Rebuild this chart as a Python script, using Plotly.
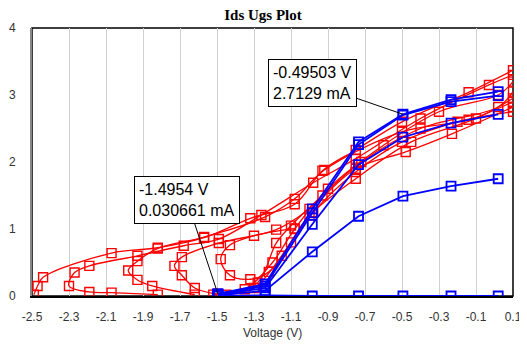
import plotly.graph_objects as go

# ---- data ----
blue_v = [-1.495, -1.24, -0.985, -0.735, -0.495, -0.235, 0.02]
blue_a = [0.03, 0.18, 1.30, 2.30, 2.7129, 2.93, 3.05]
blue_b = [0.03, 0.15, 1.24, 2.26, 2.70, 2.90, 2.99]
blue_c = [0.02, 0.12, 1.07, 1.96, 2.37, 2.58, 2.71]
blue_d = [0.01, 0.08, 0.66, 1.19, 1.49, 1.64, 1.75]
blue_e = [0.0, 0.01, 0.0, 0.0, 0.0, 0.0, 0.0]

red_curves = [
    ([-2.49, -2.47, -2.44, -2.07, -1.82, -1.57, -1.32, -1.08, -0.93, -0.75, -0.5, -0.14, 0.1],
     [0.02, 0.15, 0.28, 0.64, 0.72, 0.87, 1.16, 1.37, 1.87, 2.18, 2.6, 3.04, 3.37]),
    ([-1.82, -2.07, -2.19, -2.3, -2.27, -2.19, -1.93, -1.68, -1.49, -1.26, -0.98, -0.75, -0.4, -0.03, 0.1],
     [0.02, 0.05, 0.06, 0.15, 0.35, 0.45, 0.6, 0.75, 0.85, 1.21, 1.69, 2.05, 2.65, 3.15, 3.3]),
    ([-1.62, -1.85, -1.93, -1.98, -1.93, -1.82, -1.57, -1.24, -1.08, -0.92, -0.5, -0.14, 0.1],
     [0.02, 0.15, 0.24, 0.38, 0.52, 0.71, 0.88, 1.18, 1.45, 1.88, 2.45, 2.63, 2.9]),
    ([-1.5, -1.62, -1.69, -1.73, -1.69, -1.49, -1.18, -1.0, -0.75, -0.48, -0.23, 0.1],
     [0.03, 0.12, 0.31, 0.45, 0.58, 0.79, 0.99, 1.3, 1.9, 2.15, 2.42, 2.82]),
    ([-1.08, -1.3, -1.43, -1.48, -1.43, -1.32, -1.22, -1.1, -0.98, -0.75, -0.5, -0.2, 0.1],
     [1.01, 0.9, 0.76, 0.55, 0.31, 0.25, 0.36, 0.8, 1.25, 1.85, 2.3, 2.6, 2.75]),
    ([-1.45, -1.3, -1.15, -1.0, -0.75, -0.45, -0.1, 0.1],
     [0.02, 0.12, 0.6, 1.2, 1.75, 2.3, 2.65, 2.95]),
    ([-1.46, -1.28, -1.18, -1.1, -0.93, -0.72, -0.4, 0.02, 0.1],
     [0.01, 0.2, 0.79, 1.05, 1.5, 2.0, 2.5, 2.82, 3.05]),
    ([-1.52, -1.35, -1.2, -1.08, -0.9, -0.6, -0.3, 0.02, 0.1],
     [0.02, 0.1, 0.5, 1.0, 1.6, 2.25, 2.75, 3.0, 3.2]),
]

x_ticks = [-2.5, -2.3, -2.1, -1.9, -1.7, -1.5, -1.3, -1.1, -0.9, -0.7, -0.5, -0.3, -0.1, 0.1]
y_ticks = [0, 1, 2, 3, 4]

fig = go.Figure()

for xs, ys in red_curves:
    fig.add_trace(go.Scatter(
        x=xs, y=ys, mode="lines+markers",
        line=dict(color="#ff0000", width=1.3, shape="spline", smoothing=1.0),
        marker=dict(symbol="square-open", size=9, color="#ff0000", line=dict(width=1.4)),
        showlegend=False, hoverinfo="skip", cliponaxis=True,
    ))

for ys in [blue_e, blue_d, blue_c, blue_b, blue_a]:
    fig.add_trace(go.Scatter(
        x=blue_v, y=ys, mode="lines+markers",
        line=dict(color="#0000ff", width=1.8),
        marker=dict(symbol="square-open", size=9, color="#0000ff", line=dict(width=1.8)),
        showlegend=False, hoverinfo="skip", cliponaxis=True,
    ))

ann_font = dict(family="Arial, Liberation Sans, sans-serif", size=16, color="#000000")
fig.add_annotation(
    x=-1.4954, y=0.030661, xref="x", yref="y",
    text="-1.4954 V<br>0.030661 mA", align="left",
    showarrow=True, arrowhead=0, arrowwidth=1, arrowcolor="#000000",
    ax=-31, ay=-94, bgcolor="#ffffff", bordercolor="#000000", borderwidth=1, borderpad=4,
    font=ann_font,
)
fig.add_annotation(
    x=-0.49503, y=2.7129, xref="x", yref="y",
    text="-0.49503 V<br>2.7129 mA", align="left",
    showarrow=True, arrowhead=0, arrowwidth=1, arrowcolor="#000000",
    ax=-90, ay=-31, bgcolor="#ffffff", bordercolor="#000000", borderwidth=1, borderpad=4,
    font=ann_font,
)

tick_font = dict(family="Arial, Liberation Sans, sans-serif", size=12, color="#333333")

fig.add_annotation(
    text="Voltage (V)", xref="paper", yref="paper", x=0.5, y=0,
    xanchor="center", yanchor="middle", yshift=-37, showarrow=False, font=tick_font,
)

fig.add_shape(type="rect", xref="paper", yref="paper", x0=0, y0=0, x1=1, y1=1,
              line=dict(color="#000000", width=1.5), layer="below")

# page body has an 8px default margin, so the figure is offset by (8, 8)
W, H = 519, 336
fig.update_layout(
    width=W, height=H,
    margin=dict(l=24, r=14, t=20, b=48, autoexpand=False),
    paper_bgcolor="#ffffff", plot_bgcolor="#ffffff",
    title=dict(text="<b>Ids Ugs Plot</b>", x=(263 - 8) / W, xanchor="center", xref="container",
               y=1 - 7 / H, yanchor="middle", yref="container",
               font=dict(family="Liberation Serif, Times New Roman, serif", size=15, color="#000000")),
    xaxis=dict(range=[-2.5, 0.1], tickvals=x_ticks, ticktext=[f"{v:g}" for v in x_ticks],
               showgrid=True, gridcolor="#d0d0d0", gridwidth=1, zeroline=False,
               showline=True, linecolor="#000000", linewidth=1.5, ticks="",
               ticklabelstandoff=9, automargin=False,
               tickfont=tick_font),
    yaxis=dict(range=[0, 4], tickvals=y_ticks, showgrid=False, zeroline=False,
               showline=True, linecolor="#888888", linewidth=2, ticks="",
               ticklabelstandoff=12, automargin=False,
               tickfont=tick_font),
)

fig.write_html("out.html")
